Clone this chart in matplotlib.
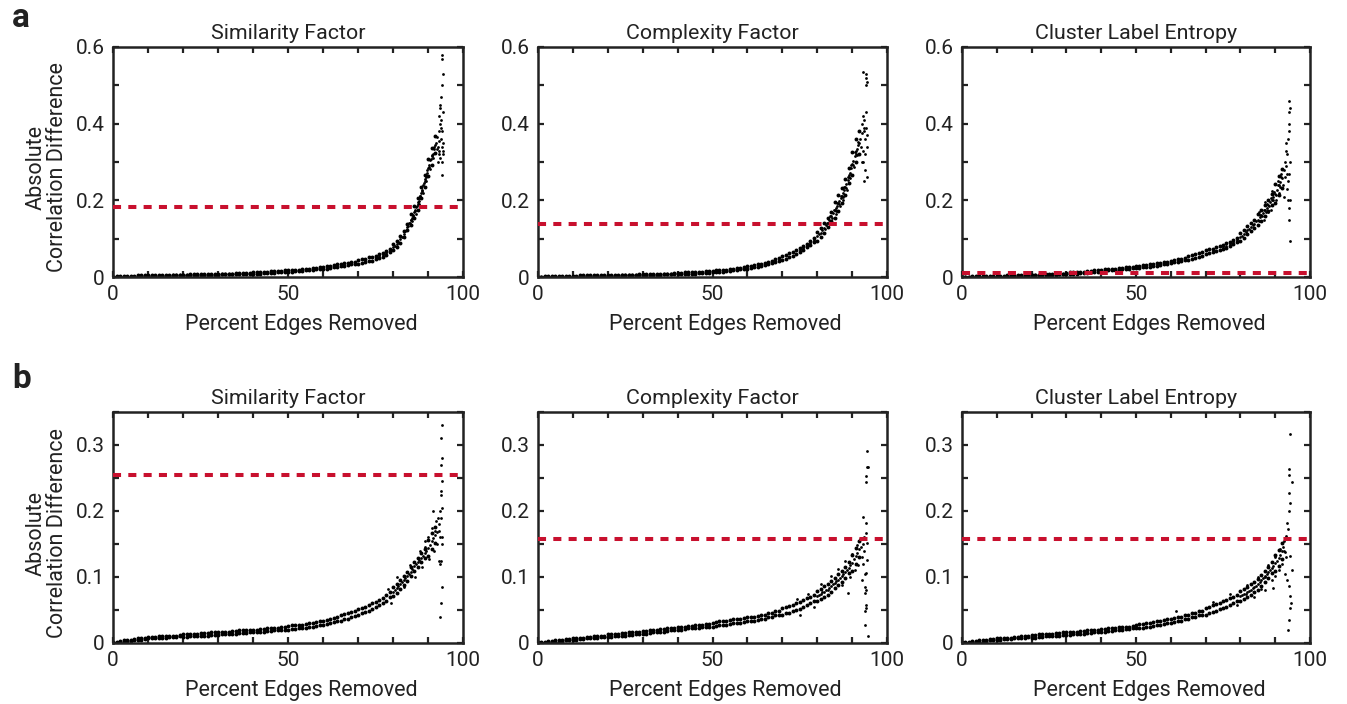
import matplotlib.pyplot as plt
from matplotlib.ticker import MultipleLocator, FuncFormatter

plt.rcParams['font.family'] = ['Roboto', 'DejaVu Sans']

# percent of edges removed (band rows are read at every whole percent)
pct = list(range(93))

titles = ["Similarity Factor", "Complexity Factor", "Cluster Label Entropy"]
thresholds_a = [0.183, 0.139, 0.011]
thresholds_b = [0.254, 0.158, 0.158]

# ---- row a: lower / upper edge of the dense band, then the loose points of the steep part
sim_a_lo = [0.000, 0.000, 0.000, 0.001, 0.001, 0.001, 0.001, 0.002, 0.002, 0.002,
            0.002, 0.002, 0.003, 0.003, 0.003, 0.003, 0.003, 0.004, 0.004, 0.004,
            0.004, 0.004, 0.005, 0.005, 0.005, 0.005, 0.005, 0.006, 0.006, 0.006,
            0.006, 0.007, 0.007, 0.007, 0.007, 0.008, 0.008, 0.008, 0.009, 0.009,
            0.008, 0.009, 0.009, 0.010, 0.010, 0.011, 0.011, 0.012, 0.012, 0.013,
            0.013, 0.014, 0.015, 0.015, 0.016, 0.017, 0.018, 0.019, 0.020, 0.021,
            0.021, 0.022, 0.024, 0.025, 0.027, 0.028, 0.030, 0.031, 0.033, 0.034,
            0.034, 0.036, 0.038, 0.041, 0.043, 0.046, 0.049, 0.053, 0.057, 0.064,
            0.070, 0.079, 0.090, 0.104, 0.122, 0.135, 0.155, 0.175, 0.205, 0.235,
            0.263, 0.293, 0.323]
sim_a_hi = [0.001, 0.002, 0.002, 0.003, 0.003, 0.003, 0.003, 0.004, 0.004, 0.004,
            0.004, 0.004, 0.005, 0.005, 0.005, 0.005, 0.005, 0.006, 0.006, 0.006,
            0.006, 0.006, 0.007, 0.007, 0.007, 0.007, 0.007, 0.008, 0.008, 0.008,
            0.008, 0.009, 0.009, 0.009, 0.009, 0.010, 0.010, 0.010, 0.011, 0.011,
            0.012, 0.013, 0.013, 0.014, 0.014, 0.015, 0.015, 0.016, 0.016, 0.017,
            0.017, 0.018, 0.019, 0.019, 0.020, 0.021, 0.022, 0.023, 0.024, 0.025,
            0.027, 0.028, 0.030, 0.031, 0.033, 0.034, 0.036, 0.037, 0.039, 0.040,
            0.044, 0.046, 0.048, 0.051, 0.053, 0.056, 0.059, 0.063, 0.067, 0.074,
            0.086, 0.095, 0.106, 0.120, 0.138, 0.165, 0.185, 0.205, 0.235, 0.265,
            0.307, 0.337, 0.367]
sim_a_tail_x = [80.5, 81.5, 82.5, 83.5, 84.5, 85.3, 85.7, 85.5, 86.3, 86.7, 86.5, 87.3,
                87.7, 87.5, 88.3, 88.7, 88.5, 89.3, 89.7, 89.5, 90.3, 90.7, 90.5, 91.3,
                91.7, 91.5, 92.3, 92.7, 92.5, 92.9, 93.0, 93.1, 93.2, 93.3, 93.0, 93.4,
                93.2, 93.5, 93.6, 93.7, 93.8, 93.9, 94.0, 94.1, 94.0, 94.2, 94.3, 93.9,
                94.0, 93.5, 93.8, 94.1, 94.3, 92.8, 94.4, 94.2,
                75, 76, 77, 78, 79, 80, 81, 82, 83, 84, 85, 86, 87, 88, 89, 90, 91, 92,
                84.25, 84.75, 85.25, 85.75, 86.25, 86.75, 87.25, 87.75, 88.25, 88.75,
                89.25, 89.75, 90.25, 90.75, 91.25, 91.75]
sim_a_tail_y = [0.082, 0.092, 0.105, 0.121, 0.140, 0.155, 0.163, 0.145, 0.176, 0.183, 0.165, 0.199,
                0.212, 0.190, 0.228, 0.240, 0.218, 0.260, 0.272, 0.250, 0.292, 0.305, 0.282, 0.322,
                0.335, 0.310, 0.350, 0.365, 0.335, 0.340, 0.320, 0.355, 0.380, 0.400, 0.420, 0.440,
                0.330, 0.310, 0.360, 0.390, 0.470, 0.500, 0.340, 0.300, 0.265, 0.430, 0.530, 0.580,
                0.570, 0.450, 0.410, 0.380, 0.330, 0.300, 0.350, 0.320,
                0.051, 0.054, 0.058, 0.062, 0.069, 0.078, 0.087, 0.098, 0.112, 0.130, 0.150, 0.170,
                0.190, 0.220, 0.250, 0.285, 0.315, 0.345,
                0.133, 0.142, 0.150, 0.160, 0.172, 0.185, 0.195, 0.212, 0.225, 0.245,
                0.255, 0.278, 0.288, 0.308, 0.318, 0.338]

cplx_a_lo = [0.000, 0.000, 0.000, 0.000, 0.000, 0.000, 0.001, 0.001, 0.001, 0.001,
             0.001, 0.001, 0.002, 0.002, 0.002, 0.002, 0.002, 0.002, 0.003, 0.003,
             0.003, 0.003, 0.003, 0.003, 0.004, 0.004, 0.004, 0.004, 0.004, 0.005,
             0.005, 0.005, 0.005, 0.006, 0.006, 0.006, 0.007, 0.007, 0.007, 0.008,
             0.007, 0.007, 0.008, 0.008, 0.009, 0.009, 0.010, 0.010, 0.011, 0.011,
             0.012, 0.013, 0.014, 0.014, 0.015, 0.016, 0.017, 0.019, 0.020, 0.021,
             0.022, 0.023, 0.025, 0.027, 0.029, 0.031, 0.034, 0.037, 0.040, 0.043,
             0.045, 0.048, 0.052, 0.056, 0.061, 0.066, 0.071, 0.077, 0.084, 0.092,
             0.094, 0.104, 0.116, 0.130, 0.146, 0.155, 0.173, 0.192, 0.215, 0.245,
             0.265, 0.300, 0.320]
cplx_a_hi = [0.001, 0.001, 0.002, 0.002, 0.002, 0.002, 0.003, 0.003, 0.003, 0.003,
             0.003, 0.003, 0.004, 0.004, 0.004, 0.004, 0.004, 0.004, 0.005, 0.005,
             0.005, 0.005, 0.005, 0.005, 0.006, 0.006, 0.006, 0.006, 0.006, 0.007,
             0.007, 0.007, 0.007, 0.008, 0.008, 0.008, 0.009, 0.009, 0.009, 0.010,
             0.011, 0.011, 0.012, 0.012, 0.013, 0.013, 0.014, 0.014, 0.015, 0.015,
             0.016, 0.017, 0.018, 0.018, 0.019, 0.020, 0.021, 0.023, 0.024, 0.025,
             0.028, 0.029, 0.031, 0.033, 0.035, 0.037, 0.040, 0.043, 0.046, 0.049,
             0.055, 0.058, 0.062, 0.066, 0.071, 0.076, 0.081, 0.087, 0.094, 0.102,
             0.118, 0.128, 0.140, 0.154, 0.170, 0.195, 0.213, 0.232, 0.255, 0.285,
             0.325, 0.360, 0.380]
cplx_a_tail_x = [80.5, 81.5, 82.5, 83.5, 84.5, 85.3, 85.7, 85.5, 86.3, 86.7, 86.5, 87.3,
                 87.7, 87.5, 88.3, 88.7, 88.5, 89.3, 89.7, 89.5, 90.3, 90.7, 90.5, 91.3,
                 91.7, 91.5, 92.3, 92.7, 92.5, 92.9, 93.0, 93.1, 93.2, 93.3, 93.4, 93.5,
                 93.6, 93.7, 93.8, 94.0, 94.1, 94.2, 94.3, 93.2, 93.9, 94.1, 94.0, 94.2,
                 92.8, 93.5, 94.4,
                 75, 76, 77, 78, 79, 80, 81, 82, 83, 84, 85, 86, 87, 88, 89, 90, 91, 92,
                 82.25, 82.75, 83.25, 83.75, 84.25, 84.75, 85.25, 85.75, 86.25, 86.75,
                 87.25, 87.75, 88.25, 88.75, 89.25, 89.75, 90.25, 90.75, 91.25, 91.75]
cplx_a_tail_y = [0.111, 0.122, 0.135, 0.150, 0.166, 0.180, 0.186, 0.165, 0.198, 0.205, 0.185, 0.218,
                 0.226, 0.202, 0.242, 0.254, 0.228, 0.272, 0.285, 0.258, 0.302, 0.315, 0.288, 0.335,
                 0.345, 0.318, 0.360, 0.375, 0.340, 0.400, 0.420, 0.300, 0.330, 0.380, 0.410, 0.250,
                 0.280, 0.360, 0.320, 0.390, 0.430, 0.260, 0.340, 0.535, 0.530, 0.520, 0.500, 0.510,
                 0.300, 0.390, 0.370,
                 0.071, 0.076, 0.082, 0.089, 0.097, 0.106, 0.116, 0.128, 0.142, 0.158, 0.175, 0.193,
                 0.212, 0.235, 0.265, 0.295, 0.330, 0.350,
                 0.126, 0.140, 0.140, 0.158, 0.155, 0.175, 0.172, 0.192, 0.190, 0.212,
                 0.210, 0.235, 0.232, 0.262, 0.262, 0.292, 0.292, 0.325, 0.322, 0.352]

ent_a_lo = [0.000, 0.000, 0.000, 0.000, 0.000, 0.000, 0.000, 0.000, 0.001, 0.001,
            0.001, 0.001, 0.001, 0.002, 0.002, 0.002, 0.002, 0.003, 0.003, 0.003,
            0.004, 0.004, 0.004, 0.005, 0.005, 0.005, 0.006, 0.006, 0.007, 0.007,
            0.007, 0.008, 0.008, 0.009, 0.010, 0.010, 0.011, 0.012, 0.013, 0.014,
            0.015, 0.016, 0.017, 0.017, 0.018, 0.019, 0.020, 0.021, 0.022, 0.023,
            0.023, 0.024, 0.025, 0.026, 0.027, 0.028, 0.030, 0.031, 0.033, 0.034,
            0.036, 0.038, 0.040, 0.042, 0.044, 0.045, 0.047, 0.050, 0.053, 0.056,
            0.060, 0.062, 0.064, 0.067, 0.070, 0.072, 0.076, 0.080, 0.085, 0.091,
            0.094, 0.103, 0.112, 0.120, 0.129, 0.135, 0.146, 0.159, 0.172, 0.187,
            0.192, 0.214, 0.232]
ent_a_hi = [0.001, 0.001, 0.001, 0.002, 0.002, 0.002, 0.002, 0.002, 0.003, 0.003,
            0.003, 0.003, 0.003, 0.004, 0.004, 0.004, 0.004, 0.005, 0.005, 0.005,
            0.006, 0.006, 0.006, 0.007, 0.007, 0.007, 0.008, 0.008, 0.009, 0.009,
            0.011, 0.012, 0.012, 0.013, 0.014, 0.014, 0.015, 0.016, 0.017, 0.018,
            0.019, 0.020, 0.021, 0.021, 0.022, 0.023, 0.024, 0.025, 0.026, 0.027,
            0.029, 0.030, 0.031, 0.032, 0.033, 0.034, 0.036, 0.037, 0.039, 0.040,
            0.042, 0.044, 0.046, 0.048, 0.050, 0.055, 0.057, 0.060, 0.063, 0.066,
            0.070, 0.072, 0.074, 0.077, 0.080, 0.084, 0.088, 0.092, 0.097, 0.103,
            0.114, 0.123, 0.132, 0.140, 0.149, 0.165, 0.176, 0.189, 0.202, 0.217,
            0.242, 0.264, 0.282]
ent_a_tail_x = [80.5, 81.5, 82.5, 83.5, 84.5, 85.5, 86.5, 87.5, 88.5, 89.5, 90.5, 91.5,
                85.3, 86.7, 87.2, 88.8, 89.2, 90.3, 90.8, 91.2, 91.8, 92.3, 92.6, 92.8,
                92.9, 93.0, 93.1, 93.2, 93.3, 93.4, 93.5, 93.6, 93.7, 93.8, 94.0, 94.1,
                94.2, 94.0, 94.1, 94.2, 94.0, 94.3, 94.1, 94.2, 93.9, 92.5, 88.0, 86.0,
                75, 76, 77, 78, 79, 80, 81, 82, 83, 84, 85, 86, 87, 88, 89, 90, 91, 92,
                85.25, 85.75, 86.25, 86.75, 87.25, 87.75, 88.25, 88.75, 89.25, 89.75,
                90.25, 90.75, 91.25, 91.75]
ent_a_tail_y = [0.108, 0.118, 0.126, 0.135, 0.145, 0.156, 0.168, 0.180, 0.195, 0.210, 0.228, 0.248,
                0.170, 0.150, 0.195, 0.175, 0.225, 0.200, 0.250, 0.220, 0.270, 0.240, 0.280, 0.300,
                0.260, 0.330, 0.350, 0.290, 0.230, 0.270, 0.320, 0.360, 0.250, 0.200, 0.460, 0.430,
                0.440, 0.400, 0.380, 0.300, 0.270, 0.200, 0.150, 0.095, 0.180, 0.210, 0.170, 0.175,
                0.078, 0.082, 0.086, 0.091, 0.097, 0.104, 0.113, 0.122, 0.130, 0.139, 0.150, 0.161,
                0.174, 0.187, 0.202, 0.217, 0.239, 0.257,
                0.145, 0.162, 0.158, 0.175, 0.170, 0.190, 0.185, 0.205, 0.200, 0.222,
                0.215, 0.240, 0.235, 0.262]

# ---- row b
sim_b_lo = [0.000, 0.000, 0.001, 0.002, 0.003, 0.003, 0.004, 0.005, 0.005, 0.006,
            0.007, 0.007, 0.007, 0.008, 0.008, 0.008, 0.009, 0.009, 0.009, 0.010,
            0.009, 0.009, 0.010, 0.010, 0.010, 0.011, 0.011, 0.011, 0.012, 0.012,
            0.012, 0.013, 0.013, 0.013, 0.014, 0.014, 0.015, 0.015, 0.015, 0.016,
            0.016, 0.016, 0.017, 0.017, 0.018, 0.018, 0.019, 0.019, 0.020, 0.020,
            0.020, 0.021, 0.021, 0.022, 0.022, 0.023, 0.024, 0.025, 0.026, 0.027,
            0.028, 0.029, 0.030, 0.032, 0.033, 0.034, 0.036, 0.037, 0.039, 0.041,
            0.043, 0.045, 0.047, 0.049, 0.052, 0.054, 0.057, 0.060, 0.064, 0.069,
            0.071, 0.076, 0.082, 0.088, 0.094, 0.101, 0.109, 0.115, 0.122, 0.129,
            0.132, 0.142, 0.152]
sim_b_hi = [0.001, 0.002, 0.003, 0.004, 0.005, 0.005, 0.006, 0.007, 0.007, 0.008,
            0.009, 0.009, 0.009, 0.010, 0.010, 0.010, 0.011, 0.011, 0.011, 0.012,
            0.013, 0.013, 0.014, 0.014, 0.014, 0.015, 0.015, 0.015, 0.016, 0.016,
            0.016, 0.017, 0.017, 0.017, 0.018, 0.018, 0.019, 0.019, 0.019, 0.020,
            0.020, 0.020, 0.021, 0.021, 0.022, 0.022, 0.023, 0.023, 0.024, 0.024,
            0.026, 0.027, 0.027, 0.028, 0.028, 0.029, 0.030, 0.031, 0.032, 0.033,
            0.034, 0.035, 0.036, 0.038, 0.039, 0.042, 0.044, 0.045, 0.047, 0.049,
            0.051, 0.053, 0.055, 0.057, 0.060, 0.062, 0.065, 0.068, 0.072, 0.077,
            0.085, 0.090, 0.096, 0.102, 0.108, 0.115, 0.123, 0.129, 0.136, 0.143,
            0.156, 0.166, 0.176]
sim_b_tail_x = [80.5, 81.5, 82.5, 83.5, 84.5, 85.5, 86.5, 87.5, 88.5, 89.5, 90.5, 91.5,
                92.5, 78.5, 79.5, 81.2, 83.2, 84.8, 86.2, 87.8, 88.2, 89.2, 90.2, 91.4,
                91.8, 92.2, 92.6, 92.8, 93.0, 93.1, 93.2, 93.3, 93.4, 93.5, 93.6, 93.7,
                93.3, 93.8, 93.9, 93.8, 93.9, 94.0, 93.8, 93.9, 93.7, 93.9, 93.8, 93.9,
                94.0, 92.0, 91.0, 90.0, 89.0,
                80, 81, 82, 83, 84, 85, 86, 87, 88, 89, 90, 91, 92]
sim_b_tail_y = [0.080, 0.086, 0.092, 0.098, 0.105, 0.112, 0.119, 0.126, 0.132, 0.140, 0.149, 0.159,
                0.168, 0.082, 0.060, 0.100, 0.085, 0.118, 0.100, 0.140, 0.115, 0.155, 0.128, 0.200,
                0.140, 0.185, 0.150, 0.190, 0.170, 0.125, 0.180, 0.200, 0.160, 0.120, 0.190, 0.225,
                0.040, 0.060, 0.085, 0.125, 0.160, 0.205, 0.230, 0.245, 0.270, 0.280, 0.310, 0.330,
                0.150, 0.170, 0.175, 0.160, 0.145,
                0.078, 0.083, 0.089, 0.095, 0.101, 0.108, 0.116, 0.122, 0.129, 0.136, 0.144, 0.154, 0.164]

cplx_b_lo = [0.000, 0.000, 0.000, 0.001, 0.001, 0.002, 0.002, 0.003, 0.004, 0.004,
             0.005, 0.005, 0.006, 0.006, 0.007, 0.007, 0.008, 0.008, 0.009, 0.009,
             0.009, 0.009, 0.010, 0.010, 0.011, 0.011, 0.012, 0.012, 0.013, 0.013,
             0.014, 0.014, 0.015, 0.016, 0.016, 0.017, 0.017, 0.018, 0.019, 0.019,
             0.020, 0.020, 0.021, 0.022, 0.022, 0.023, 0.023, 0.024, 0.025, 0.025,
             0.025, 0.026, 0.027, 0.027, 0.028, 0.029, 0.030, 0.030, 0.031, 0.032,
             0.033, 0.034, 0.034, 0.035, 0.036, 0.037, 0.039, 0.040, 0.042, 0.043,
             0.043, 0.045, 0.046, 0.048, 0.050, 0.052, 0.055, 0.058, 0.060, 0.063,
             0.063, 0.066, 0.070, 0.073, 0.078, 0.083, 0.088, 0.093, 0.099, 0.106,
             0.109, 0.120, 0.130]
cplx_b_hi = [0.001, 0.002, 0.002, 0.003, 0.003, 0.004, 0.004, 0.005, 0.006, 0.006,
             0.007, 0.007, 0.008, 0.008, 0.009, 0.009, 0.010, 0.010, 0.011, 0.011,
             0.013, 0.013, 0.014, 0.014, 0.015, 0.015, 0.016, 0.016, 0.017, 0.017,
             0.018, 0.018, 0.019, 0.020, 0.020, 0.021, 0.021, 0.022, 0.023, 0.023,
             0.024, 0.024, 0.025, 0.026, 0.026, 0.027, 0.027, 0.028, 0.029, 0.029,
             0.031, 0.032, 0.033, 0.033, 0.034, 0.035, 0.036, 0.036, 0.037, 0.038,
             0.039, 0.040, 0.040, 0.041, 0.042, 0.043, 0.045, 0.046, 0.048, 0.049,
             0.053, 0.055, 0.056, 0.058, 0.060, 0.062, 0.065, 0.068, 0.070, 0.073,
             0.079, 0.082, 0.086, 0.089, 0.094, 0.099, 0.104, 0.109, 0.115, 0.122,
             0.133, 0.144, 0.154]
cplx_b_tail_x = [80.5, 81.5, 82.5, 83.5, 84.5, 85.5, 86.5, 87.5, 88.5, 89.5, 90.5, 91.5,
                 92.5, 74.1, 75.0, 77.5, 79.0, 81.0, 84.0, 86.0, 87.0, 88.0, 88.8, 89.5,
                 90.0, 90.8, 91.3, 91.8, 92.2, 92.7, 92.9, 93.0, 93.1, 93.2, 93.4, 93.5,
                 93.6, 93.7, 94.0, 93.9, 94.2, 94.2, 93.9, 94.0, 93.6, 94.1, 94.1, 93.6,
                 93.6, 94.5, 94.3, 94.3, 94.5, 93.9, 93.9,
                 80, 81, 82, 83, 84, 85, 86, 87, 88, 89, 90, 91, 92]
cplx_b_tail_y = [0.073, 0.077, 0.080, 0.084, 0.089, 0.094, 0.099, 0.104, 0.111, 0.118, 0.127, 0.137,
                 0.145, 0.067, 0.043, 0.075, 0.055, 0.090, 0.102, 0.112, 0.088, 0.125, 0.076, 0.100,
                 0.135, 0.110, 0.148, 0.118, 0.158, 0.096, 0.130, 0.150, 0.191, 0.120, 0.140, 0.160,
                 0.105, 0.085, 0.182, 0.167, 0.152, 0.126, 0.106, 0.081, 0.076, 0.058, 0.053, 0.048,
                 0.028, 0.010, 0.291, 0.266, 0.267, 0.253, 0.244,
                 0.071, 0.074, 0.078, 0.081, 0.086, 0.091, 0.096, 0.101, 0.107, 0.114, 0.121, 0.132, 0.142]

ent_b_lo = [0.000, 0.000, 0.000, 0.001, 0.001, 0.002, 0.002, 0.003, 0.004, 0.004,
            0.005, 0.005, 0.006, 0.006, 0.006, 0.007, 0.007, 0.008, 0.008, 0.009,
            0.008, 0.008, 0.009, 0.009, 0.010, 0.010, 0.010, 0.011, 0.011, 0.012,
            0.012, 0.012, 0.013, 0.013, 0.014, 0.014, 0.015, 0.015, 0.016, 0.016,
            0.017, 0.017, 0.018, 0.018, 0.019, 0.020, 0.020, 0.021, 0.021, 0.022,
            0.022, 0.023, 0.023, 0.024, 0.025, 0.026, 0.027, 0.028, 0.029, 0.030,
            0.031, 0.032, 0.033, 0.034, 0.036, 0.037, 0.039, 0.040, 0.042, 0.043,
            0.043, 0.045, 0.047, 0.049, 0.051, 0.053, 0.055, 0.058, 0.060, 0.063,
            0.063, 0.066, 0.069, 0.073, 0.077, 0.081, 0.087, 0.093, 0.099, 0.106,
            0.109, 0.117, 0.127]
ent_b_hi = [0.001, 0.002, 0.002, 0.003, 0.003, 0.004, 0.004, 0.005, 0.006, 0.006,
            0.007, 0.007, 0.008, 0.008, 0.008, 0.009, 0.009, 0.010, 0.010, 0.011,
            0.012, 0.012, 0.013, 0.013, 0.014, 0.014, 0.014, 0.015, 0.015, 0.016,
            0.016, 0.016, 0.017, 0.017, 0.018, 0.018, 0.019, 0.019, 0.020, 0.020,
            0.021, 0.021, 0.022, 0.022, 0.023, 0.024, 0.024, 0.025, 0.025, 0.026,
            0.028, 0.029, 0.029, 0.030, 0.031, 0.032, 0.033, 0.034, 0.035, 0.036,
            0.037, 0.038, 0.039, 0.040, 0.042, 0.043, 0.045, 0.046, 0.048, 0.049,
            0.053, 0.055, 0.057, 0.059, 0.061, 0.063, 0.065, 0.068, 0.070, 0.073,
            0.079, 0.082, 0.085, 0.089, 0.093, 0.097, 0.103, 0.109, 0.115, 0.122,
            0.133, 0.141, 0.151]
ent_b_tail_x = [80.5, 81.5, 82.5, 83.5, 84.5, 85.5, 86.5, 87.5, 88.5, 89.5, 90.5, 91.5,
                92.5, 61.4, 72.0, 77.0, 79.0, 82.0, 84.0, 85.0, 86.0, 87.1, 87.1, 88.0,
                89.0, 89.5, 89.9, 90.0, 91.0, 91.5, 92.0, 92.3, 92.8, 93.0, 93.3, 93.7,
                93.2, 92.6, 94.3, 94.8, 92.9, 93.4, 93.9, 94.3, 94.6, 94.3, 94.0, 93.6,
                94.3, 94.0, 93.9, 94.8, 94.0, 94.3, 94.0,
                80, 81, 82, 83, 84, 85, 86, 87, 88, 89, 90, 91, 92]
ent_b_tail_y = [0.072, 0.075, 0.079, 0.083, 0.087, 0.092, 0.098, 0.104, 0.110, 0.117, 0.125, 0.134,
                0.140, 0.048, 0.062, 0.075, 0.058, 0.088, 0.070, 0.100, 0.082, 0.100, 0.081, 0.118,
                0.095, 0.083, 0.101, 0.130, 0.110, 0.142, 0.120, 0.145, 0.138, 0.130, 0.182, 0.172,
                0.162, 0.154, 0.132, 0.111, 0.104, 0.096, 0.086, 0.071, 0.061, 0.053, 0.035, 0.020,
                0.316, 0.263, 0.255, 0.244, 0.228, 0.212, 0.200,
                0.071, 0.074, 0.077, 0.081, 0.085, 0.089, 0.095, 0.101, 0.107, 0.114, 0.121, 0.129, 0.139]

row_a = [(sim_a_lo, sim_a_hi, sim_a_tail_x, sim_a_tail_y),
         (cplx_a_lo, cplx_a_hi, cplx_a_tail_x, cplx_a_tail_y),
         (ent_a_lo, ent_a_hi, ent_a_tail_x, ent_a_tail_y)]
row_b = [(sim_b_lo, sim_b_hi, sim_b_tail_x, sim_b_tail_y),
         (cplx_b_lo, cplx_b_hi, cplx_b_tail_x, cplx_b_tail_y),
         (ent_b_lo, ent_b_hi, ent_b_tail_x, ent_b_tail_y)]

INK = "#222222"
RED = "#C8102E"


def ylab(step):
    def fmt(v, pos):
        if abs(v) < 1e-9:
            return "0"
        if round(v / step) % 2 == 0:
            return "%.1f" % v
        return ""
    return FuncFormatter(fmt)


def draw_panel(ax, data, thr, title, ymax, ystep):
    lo, hi, tx, ty = data
    for ys in (lo, hi):
        ax.scatter(pct, ys, s=8, c="k", linewidths=0, zorder=2)
    ax.scatter(tx, ty, s=4, c="k", linewidths=0, zorder=2)
    ax.axhline(thr, color=RED, lw=2.9, dashes=(2.0, 1.8), zorder=3)

    ax.set_xlim(0, 100)
    ax.set_ylim(0, ymax)
    ax.xaxis.set_major_locator(MultipleLocator(10))
    ax.xaxis.set_major_formatter(FuncFormatter(lambda v, p: "%d" % v if round(v) % 50 == 0 else ""))
    ax.yaxis.set_major_locator(MultipleLocator(ystep))
    ax.yaxis.set_major_formatter(ylab(ystep))
    ax.tick_params(direction="in", length=4, width=1.6, top=True, right=True,
                   labelsize=15, pad=6, color=INK, labelcolor=INK)
    for sp in ax.spines.values():
        sp.set_linewidth(1.8)
        sp.set_color(INK)
    ax.set_title(title, fontsize=15.4, color=INK, pad=6)
    ax.set_xlabel("Percent Edges Removed", fontsize=15.5, color=INK, labelpad=7)
    ax.xaxis.label.set_x(0.537)


fig = plt.figure(figsize=(13.47, 7.04), dpi=100)
W, H = 1347.0, 704.0
lefts = [113, 538, 962]
widths = [350, 349, 348]

for i in range(3):
    ax = fig.add_axes([lefts[i] / W, 1 - 277 / H, widths[i] / W, 230 / H])
    draw_panel(ax, row_a[i], thresholds_a[i], titles[i], 0.6, 0.1)
    ax = fig.add_axes([lefts[i] / W, 1 - 643 / H, widths[i] / W, 231 / H])
    draw_panel(ax, row_b[i], thresholds_b[i], titles[i], 0.35, 0.05)

for yc in (167, 533):
    fig.text(47 / W, 1 - yc / H, "Absolute\nCorrelation Difference", rotation=90,
             ha="center", va="center", fontsize=15.5, color=INK, linespacing=1.05)

fig.text(12 / W, 1 - 27 / H, "a", fontsize=24, fontweight="bold", color=INK, va="baseline")
fig.text(12 / W, 1 - 388 / H, "b", fontsize=24, fontweight="bold", color=INK, va="baseline")

fig.savefig("out.png", dpi=100)
